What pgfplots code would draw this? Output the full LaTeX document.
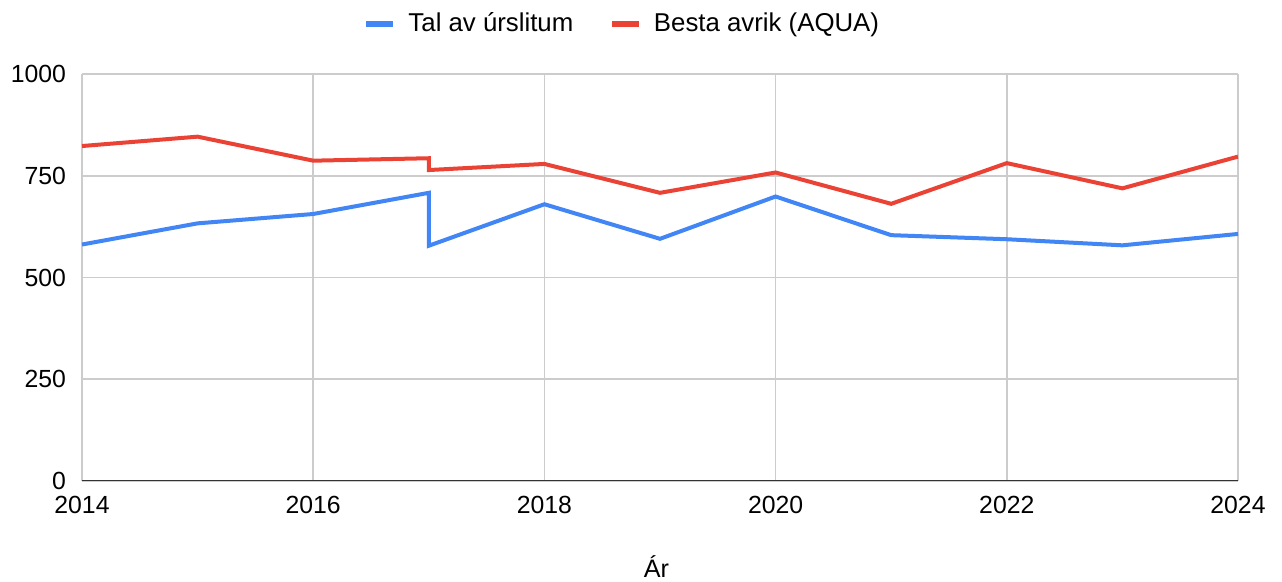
\documentclass[border=0pt]{standalone}
\usepackage{fontspec}
\setmainfont{Liberation Sans}
\usepackage{pgfplots}
\pgfplotsset{compat=1.18}
\definecolor{gblue}{HTML}{4285F4}
\definecolor{gred}{HTML}{EA4335}
\definecolor{ggrid}{HTML}{CCCCCC}
\definecolor{gaxis}{HTML}{333333}
\begin{document}
\begin{tikzpicture}
\useasboundingbox (-41pt,-50.5pt) rectangle (600pt,240.5pt);
\begin{axis}[
  scale only axis,
  width=578pt, height=203.5pt,
  xmin=2014, xmax=2024, ymin=0, ymax=1000,
  xtick={2014,2016,2018,2020,2022,2024},
  ytick={0,250,500,750,1000},
  /pgf/number format/1000 sep={},
  /pgf/number format/assume math mode=true,
  major tick length=0pt,
  grid=major,
  major grid style={ggrid, line width=0.8pt},
  axis line style={draw=none},
  tick label style={font=\fontsize{12.4}{14}\selectfont, text=black},
  xticklabel style={yshift=-4.3pt},
  yticklabel style={xshift=-4.5pt},
  xlabel={Ár},
  xlabel style={at={(axis description cs:0.497,0)}, anchor=base, yshift=-48.5pt, font=\fontsize{12.6}{14}\selectfont},
  legend columns=2,
  legend style={draw=none, at={(axis description cs:0.4684,1.1229)}, anchor=center,
    font=\fontsize{12.9}{15}\selectfont,
    /tikz/every even column/.append style={column sep=16pt}},
  legend image code/.code={\draw[#1, line width=2.6pt] (0pt,0pt) -- (13.5pt,0pt); \path (18pt,0pt);},
]
\addplot[gblue, line width=2pt, line join=miter] coordinates {
(2014,581) (2015,633) (2016,656) (2017,708) (2017,578) (2018,680) (2019,595) (2020,699) (2021,604) (2022,594) (2023,579) (2024,607)};
\addlegendentry{Tal av úrslitum}
\addplot[gred, line width=2pt, line join=miter] coordinates {
(2014,823) (2015,846) (2016,787) (2017,793) (2017,764) (2018,779) (2019,708) (2020,758) (2021,681) (2022,781) (2023,719) (2024,797)};
\addlegendentry{Besta avrik (AQUA)}
\draw[gaxis, line width=1pt] (rel axis cs:0,0) -- (rel axis cs:1,0);
\end{axis}
\end{tikzpicture}
\end{document}
